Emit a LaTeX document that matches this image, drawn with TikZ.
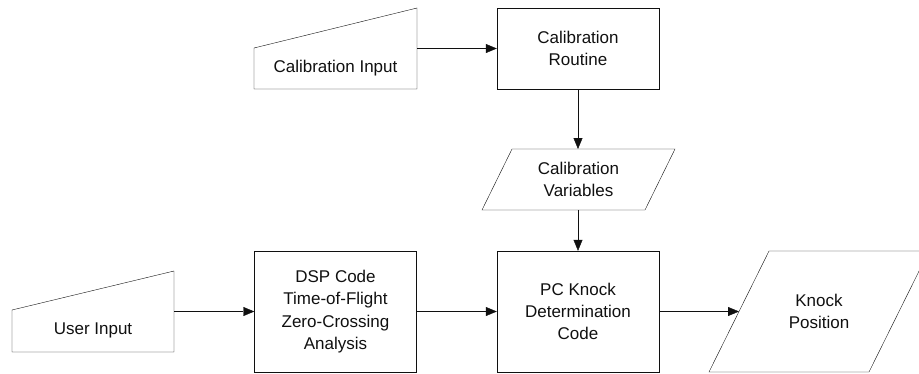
\documentclass[tikz,border=0pt]{standalone}
\usepackage{fontspec}
\setmainfont{Liberation Sans}
\usetikzlibrary{arrows.meta}
\definecolor{ink}{HTML}{101010}
\tikzset{>={Triangle[length=11pt,width=9pt]},line width=1.5pt,
  every node/.style={font=\fontsize{17}{22.3}\selectfont,align=center,inner sep=0pt,text=ink},
  block/.style={draw=ink,minimum width=162pt,minimum height=81pt},
  tallblock/.style={block,minimum height=121pt},
  outline/.style={draw=ink,line join=miter},
  flow/.style={->,draw=ink}}
\begin{document}
\begin{tikzpicture}[x=1pt,y=-1pt]
\useasboundingbox (0,0) rectangle (919,373);
% manual inputs
\draw[outline] (254,48)--(417,8)--(417,89)--(254,89)--cycle;
\node (calin) at (335.5,68) {Calibration Input};
\coordinate (calinout) at (417,48.5);
\draw[outline] (12,310)--(174,271)--(174,352)--(12,352)--cycle;
\node (userin) at (93,330) {User Input};
\coordinate (userinout) at (174,311.5);
% processes
\node[block] (calroutine) at (578,48.5) {Calibration\\Routine};
\node[tallblock] (dsp) at (335.5,311.5) {DSP Code\\Time-of-Flight\\Zero-Crossing\\Analysis};
\node[tallblock] (pc) at (578,311.5) {PC Knock\\Determination\\Code};
% data
\draw[outline] (482,210)--(512,149)--(675,149)--(645,210)--cycle;
\node (calvars) at (578.5,179.5) {Calibration\\Variables};
\coordinate (calvarsin) at (578,149);\coordinate (calvarsout) at (578,210);
\draw[outline] (709,372)--(769,251)--(929,251)--(869,372)--cycle;
\node (knock) at (819,311.5) {Knock\\Position};
\coordinate (knockin) at (739,311.5);
% flow
\draw[flow] (calinout)--(calroutine);
\draw[flow] (calroutine)--(calvarsin);
\draw[flow] (calvarsout)--(pc);
\draw[flow] (userinout)--(dsp);
\draw[flow] (dsp)--(pc);
\draw[flow] (pc)--(knockin);
\end{tikzpicture}
\end{document}
